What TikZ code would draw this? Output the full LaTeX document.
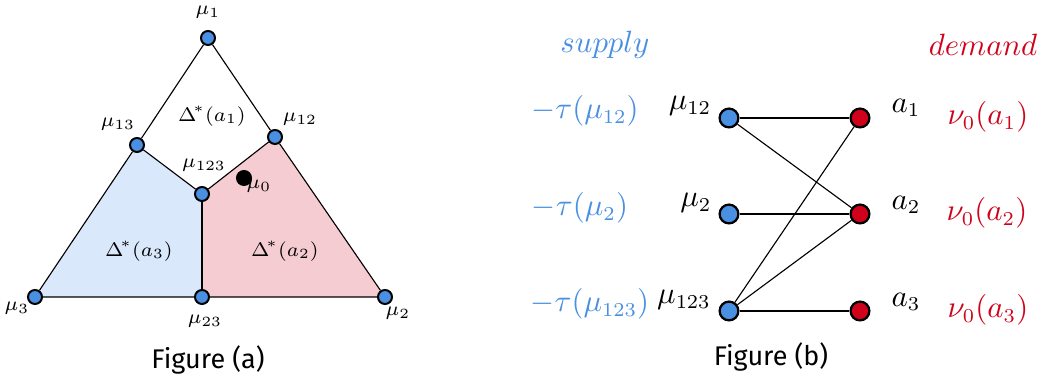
\documentclass[tikz,border=0pt]{standalone}
\usepackage{fontspec}
\newfontfamily\capfont{Fira Sans}
\usetikzlibrary{backgrounds}
\definecolor{nodeblue}{RGB}{74,144,226}
\definecolor{nodered}{RGB}{208,2,27}
\definecolor{regblue}{RGB}{218,232,252}
\definecolor{regred}{RGB}{244,204,210}
\begin{document}
\begin{tikzpicture}
[x=0.0125cm, y=-0.0125cm, line width=0.55pt]
\tikzstyle{vertex}=[circle, draw, line width=0.7pt, inner sep=0mm, minimum size=0.175cm]
\tikzstyle{bigvertex}=[vertex, line width=0.8pt, minimum size=0.235cm]
\tikzstyle{small}=[font=\fontsize{6.6}{8}\selectfont, inner sep=0pt]
\tikzstyle{big}=[font=\fontsize{10.5}{12}\selectfont, inner sep=0pt]
\useasboundingbox (0,0) rectangle (1048,383);

% Figure (a): simplex
\node[vertex, fill=nodeblue]	(M1)	at (208,38)	{};
\node[vertex, fill=nodeblue]	(M12)	at (275,137)	{};
\node[vertex, fill=nodeblue]	(M13)	at (137,145)	{};
\node[vertex, fill=nodeblue]	(M123)	at (202,194)	{};
\node[vertex, fill=nodeblue]	(M3)	at (35,297)	{};
\node[vertex, fill=nodeblue]	(M23)	at (202,297)	{};
\node[vertex, fill=nodeblue]	(M2)	at (385,297)	{};
\node[vertex, fill=black]	(M0)	at (244,178)	{};

\node[small]	(LM1)	at (208,12)	{$\mu_1$};
\node[small]	(LM13)	at (118,124)	{$\mu_{13}$};
\node[small]	(LM12)	at (300,119)	{$\mu_{12}$};
\node[small]	(LM123)	at (204,165)	{$\mu_{123}$};
\node[small]	(LM0)	at (259,186)	{$\mu_0$};
\node[small]	(LM3)	at (17,308)	{$\mu_3$};
\node[small]	(LM23)	at (205,321)	{$\mu_{23}$};
\node[small]	(LM2)	at (398,313)	{$\mu_2$};

\node[small]	(D1)	at (212,116)	{$\Delta^{\!*}(a_1)$};
\node[small]	(D3)	at (139,251)	{$\Delta^{\!*}(a_3)$};
\node[small]	(D2)	at (285,251)	{$\Delta^{\!*}(a_2)$};

\begin{scope}[on background layer]
\fill[regblue] (M3.center)--(M13.center)--(M123.center)--(M23.center)--cycle;
\fill[regred] (M23.center)--(M123.center)--(M12.center)--(M2.center)--cycle;
\draw (M1)--(M12)--(M2)--(M23)--(M3)--(M13)--(M1);
\draw (M13)--(M123)--(M12);
\draw (M123)--(M23);
\end{scope}

\node[font=\capfont\fontsize{9.6}{11}\selectfont]	(CA)	at (208,360)	{Figure (a)};

% Figure (b): bipartite graph
\node[bigvertex, fill=nodeblue]	(S12)	at (729,118)	{};
\node[bigvertex, fill=nodeblue]	(S2)	at (729,214)	{};
\node[bigvertex, fill=nodeblue]	(S123)	at (729,311)	{};
\node[bigvertex, fill=nodered]	(A1)	at (860,118)	{};
\node[bigvertex, fill=nodered]	(A2)	at (860,214)	{};
\node[bigvertex, fill=nodered]	(A3)	at (860,311)	{};

\node[big]	(LS12)	at (690,106)	{$\mu_{12}$};
\node[big]	(LS2)	at (696,203)	{$\mu_2$};
\node[big]	(LS123)	at (684,300)	{$\mu_{123}$};
\node[big]	(LA1)	at (906,108)	{$a_1$};
\node[big]	(LA2)	at (906,205)	{$a_2$};
\node[big]	(LA3)	at (906,302)	{$a_3$};

\node[big, text=nodeblue]	(SUP)	at (605,45)	{$supply$};
\node[big, text=nodeblue]	(T12)	at (585,111)	{$-\tau(\mu_{12})$};
\node[big, text=nodeblue]	(T2)	at (580,208)	{$-\tau(\mu_2)$};
\node[big, text=nodeblue]	(T123)	at (590,304)	{$-\tau(\mu_{123})$};
\node[big, text=nodered]	(DEM)	at (983,45)	{$demand$};
\node[big, text=nodered]	(N1)	at (988,117)	{$\nu_0(a_1)$};
\node[big, text=nodered]	(N2)	at (987,213)	{$\nu_0(a_2)$};
\node[big, text=nodered]	(N3)	at (988,310)	{$\nu_0(a_3)$};

\begin{scope}[on background layer, line width=0.9pt]
\draw (S12)--(A1);
\draw (S12)--(A2);
\draw (S2)--(A2);
\draw (S123)--(A1);
\draw (S123)--(A2);
\draw (S123)--(A3);
\end{scope}

\node[font=\capfont\fontsize{9.6}{11}\selectfont]	(CB)	at (771,357)	{Figure (b)};
\end{tikzpicture}
\end{document}
